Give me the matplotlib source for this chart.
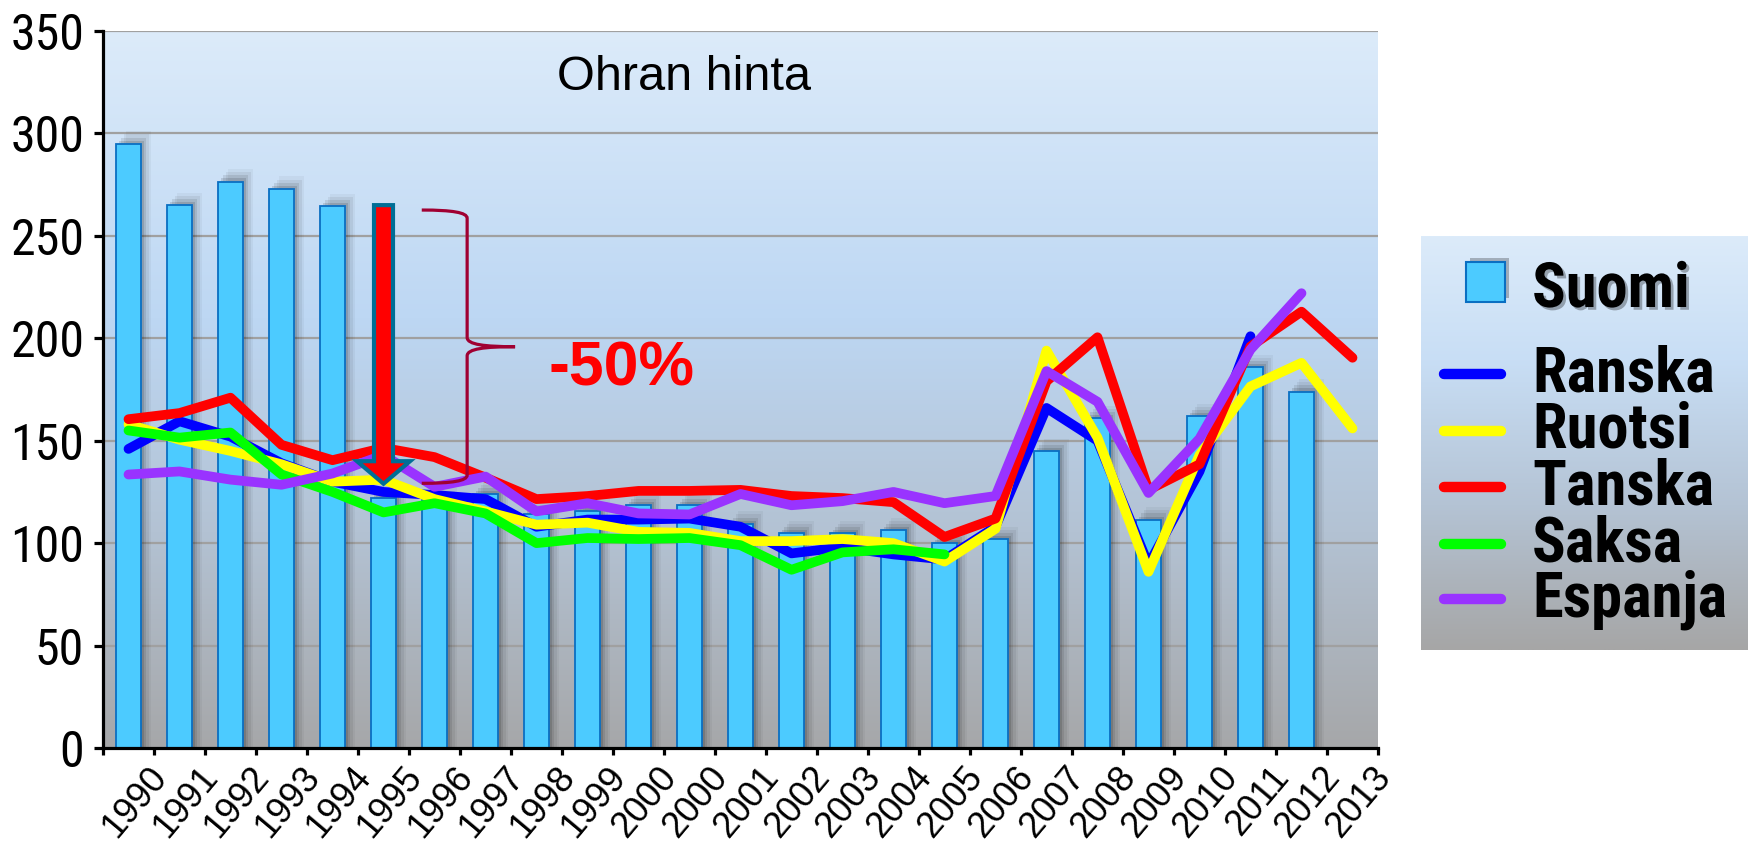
import numpy as np
import matplotlib.pyplot as plt
from matplotlib import font_manager as fm
from matplotlib.colors import LinearSegmentedColormap
from matplotlib.patches import Polygon, PathPatch, Rectangle
from matplotlib.path import Path
from matplotlib.transforms import ScaledTranslation
import matplotlib.patheffects as pe

nan = np.nan
years = ['1990', '1991', '1992', '1993', '1994', '1995', '1996', '1997', '1998', '1999',
         '2000', '2000', '2001', '2002', '2003', '2004', '2005', '2006', '2007', '2008',
         '2009', '2010', '2011', '2012', '2013']
suomi = [295, 265, 276.5, 273, 264.5, 122, 121, 124, 114, 115.5, 118.5, 118.5, 109.5,
         105, 105, 106.5, 100, 102, 145, 161, 111.5, 162, 186, 174, nan]
ranska = [146, 159.5, 152, 139, 130, 125, 123.5, 121.5, 108, 111.5, 111.5, 112, 108,
          95, 98, 94.5, 92, 108, 166, 150, 89.5, 135, 201, nan, nan]
ruotsi = [158, 150.5, 145, 138.5, 130, 131, 121.5, 115.5, 109, 110, 105.5, 105, 101,
          101, 102, 100, 91, 107, 194, 151.5, 86, 143, 176.5, 188, 156]
tanska = [160.5, 163.5, 171, 148, 140.5, 146.5, 142, 132, 121.5, 123, 125.5, 125.5, 126,
          123, 122, 120, 103, 112, 179, 200.5, 126, 138.5, 196, 213, 190.5]
saksa = [155, 151.5, 154, 133.5, 125, 115, 119.5, 114.5, 100, 102.5, 102, 102.5, 99,
         87, 95.5, 97, 94.5, nan, nan, nan, nan, nan, nan, nan, nan]
espanja = [133.5, 135, 131, 128.5, 134, 143, 127.5, 132.5, 115.5, 119.5, 114.5, 114, 124,
           118.5, 120.5, 125, 119.5, 123, 184, 169, 124.5, 151, 194.5, 222, nan]

series = [('Ranska', ranska, '#0000ff'), ('Ruotsi', ruotsi, '#ffff00'),
          ('Tanska', tanska, '#ff0000'), ('Saksa', saksa, '#00ff00'),
          ('Espanja', espanja, '#9933ff')]

# look for a narrow sans font, otherwise shrink normal one
have = {f.name for f in fm.fontManager.ttflist}
narrow = None
for n in ['Liberation Sans Narrow', 'Arial Narrow', 'DejaVu Sans Condensed',
          'Roboto Condensed', 'Open Sans Condensed', 'Noto Sans Condensed']:
    if n in have:
        narrow = n
        break
stretch = 'normal'
if narrow is None:
    for f in fm.fontManager.ttflist:
        if f.name in ('Noto Sans', 'DejaVu Sans', 'Open Sans') and f.stretch in ('condensed', 'semi-condensed', 600, 700):
            narrow, stretch = f.name, 'condensed'
            break
if narrow is None:
    narrow = 'Liberation Sans'
    ysize, lsize = 31, 37
else:
    ysize, lsize = 36, 45

bar_col = '#4ccbff'
bar_edge = '#0a6fc2'

fig = plt.figure(figsize=(17.52, 8.49), dpi=100)
ax = fig.add_axes([103/1752, 1-748/849, 1275/1752, 717/849])

x = np.arange(len(years))
grad = np.linspace(0, 1, 256).reshape(-1, 1)
bg = LinearSegmentedColormap.from_list('bg', [(0, '#a6a7a9'), (0.3, '#b3c2d3'),
                                              (0.6, '#bdd7f3'), (1, '#dcebfa')])
ax.imshow(grad, extent=[-0.5, 24.5, 0, 350], aspect='auto', cmap=bg, origin='lower', zorder=0)

for yv in range(50, 351, 50):
    ax.axhline(yv, color='#a0a0a0', lw=1.6, zorder=1)

s = np.array(suomi)
ok = ~np.isnan(s)
for k, a in enumerate([0.12, 0.09, 0.06, 0.04]):
    ax.bar(x[ok] + 0.05*(k+1), s[ok] + 1.5*(k+1), width=0.49, color='black',
           alpha=a, linewidth=0, zorder=1.5)
ax.bar(x[ok], s[ok], width=0.5, color=bar_col, edgecolor=bar_edge, linewidth=1.3, zorder=2)

for name, vals, col in series:
    ax.plot(x, vals, color=col, lw=7, solid_capstyle='round', solid_joinstyle='round', zorder=3)

# arrow showing the drop
c, top, tip, head_base = 5, 265, 129, 140
sw, hw = 0.186, 0.52
arrow_pts = [(c-sw, top), (c+sw, top), (c+sw, head_base), (c+hw, head_base), (c, tip),
             (c-hw, head_base), (c-sw, head_base)]
ax.add_patch(Polygon(arrow_pts, closed=True, fc='#ff0000', ec='#006e96', lw=3,
                     joinstyle='miter', zorder=5))

# brace
bx0, bx1, bx2 = 5.75, 6.64, 7.58
b_top, b_mid, b_bot = 262.6, 195.9, 129.2
verts = [(bx0, b_top), (bx0+0.6, b_top), (bx1, b_top-1.2), (bx1, b_top-4),
         (bx1, b_mid+4.5),
         (bx1, b_mid+1), (bx1+0.35, b_mid), (bx2, b_mid),
         (bx1+0.35, b_mid), (bx1, b_mid-1), (bx1, b_mid-4.5),
         (bx1, b_bot+4),
         (bx1, b_bot+1.2), (bx0+0.6, b_bot), (bx0, b_bot)]
codes = [Path.MOVETO, Path.CURVE4, Path.CURVE4, Path.CURVE4, Path.LINETO,
         Path.CURVE4, Path.CURVE4, Path.CURVE4, Path.CURVE4, Path.CURVE4, Path.CURVE4,
         Path.LINETO, Path.CURVE4, Path.CURVE4, Path.CURVE4]
ax.add_patch(PathPatch(Path(verts, codes), fc='none', ec='#a00032', lw=2.3, zorder=5))

ax.text(9.67, 177, '-50%', color='#ff0000', fontsize=45, fontweight='bold',
        family='Liberation Sans', ha='center', va='baseline', zorder=6)
ax.text(10.89, 321, 'Ohran hinta', fontsize=35, family='Liberation Sans',
        ha='center', va='baseline', zorder=6)

ax.set_xlim(-0.5, 24.5)
ax.set_ylim(0, 350)
for sp in ['top', 'right']:
    ax.spines[sp].set_visible(False)
for sp in ['left', 'bottom']:
    ax.spines[sp].set_linewidth(2.3)
    ax.spines[sp].set_zorder(7)
ax.set_yticks(range(0, 351, 50))
ax.tick_params(axis='y', length=6.5, width=2.3, pad=7, labelsize=ysize)
for t in ax.get_yticklabels():
    t.set_family(narrow)
    t.set_stretch(stretch)
ax.set_xticks(np.arange(-0.5, 25, 1))
ax.set_xticklabels([])
ax.tick_params(axis='x', length=5, width=2.3)

off = ScaledTranslation(0.19, -0.12, fig.dpi_scale_trans)
for i, lab in enumerate(years):
    ax.text(i, 0, lab, transform=ax.get_xaxis_transform() + off, rotation=50,
            rotation_mode='anchor', ha='right', va='top', fontsize=26,
            family='Liberation Sans', clip_on=False)

# legend box
lax = fig.add_axes([1421/1752, 1-650/849, 327/1752, 414/849])
lg = LinearSegmentedColormap.from_list('lg', [(0, '#a6a6a6'), (0.35, '#b4c3d4'),
                                              (0.7, '#c8def5'), (1, '#dcebfa')])
lax.imshow(grad, extent=[0, 327, 414, 0], aspect='auto', cmap=lg, origin='lower')
lax.set_xlim(0, 327)
lax.set_ylim(414, 0)
lax.axis('off')
lax.add_patch(Rectangle((49, 22), 39, 40, fc='black', alpha=0.25, lw=0))
lax.add_patch(Rectangle((45, 26), 39, 40, fc=bar_col, ec=bar_edge, lw=1.5))
lax.text(111, 71, 'Suomi', fontsize=lsize, fontweight='bold', family=narrow,
         stretch=stretch, ha='left', va='baseline',
         path_effects=[pe.SimplePatchShadow(offset=(2, -2), alpha=0.3), pe.Normal()])
leg_y = [138, 194.7, 251.3, 308, 363]
for (name, vals, col), yy in zip(series, leg_y):
    lax.plot([23, 80], [yy, yy], color=col, lw=7.5, solid_capstyle='round')
    lax.text(111, yy + 17, name, fontsize=lsize, fontweight='bold', family=narrow,
             stretch=stretch, ha='left', va='baseline')

fig.savefig('out.png', dpi=100)
